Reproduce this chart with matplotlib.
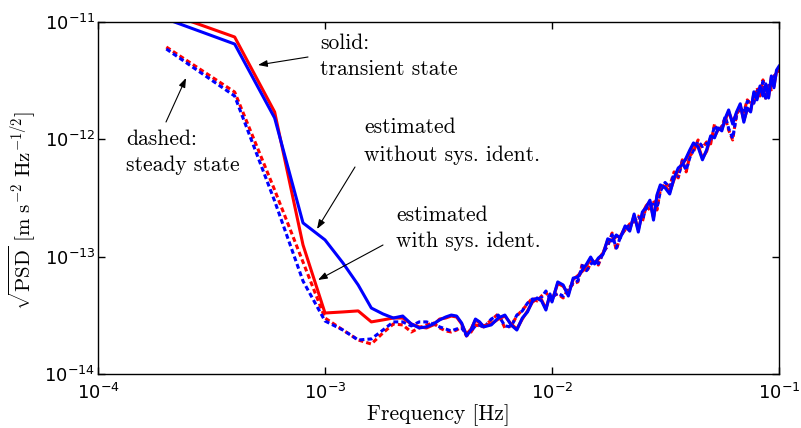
import numpy as np
import matplotlib
matplotlib.use("Agg")
import matplotlib.pyplot as plt
from matplotlib.ticker import NullLocator

# frequency bins [Hz]
freq = [2e-4, 4e-4, 6e-4, 8e-4, 1.0e-3, 1.2e-3, 1.4e-3, 1.6e-3, 1.8e-3, 2.0e-3,
        2.2e-3, 2.4e-3, 2.6e-3, 2.8e-3, 3.0e-3, 3.2e-3, 3.4e-3, 3.6e-3, 3.8e-3, 4.0e-3,
        4.2e-3, 4.4e-3, 4.6e-3, 4.8e-3, 5.0e-3, 5.4e-3, 5.8e-3, 6.2e-3, 6.6e-3, 7.0e-3,
        7.4e-3, 7.8e-3, 8.2e-3, 8.6e-3, 9.0e-3, 9.4e-3, 9.8e-3, 1.00e-2, 1.06e-2, 1.12e-2,
        1.18e-2, 1.24e-2, 1.30e-2, 1.36e-2, 1.42e-2, 1.48e-2, 1.54e-2, 1.60e-2, 1.68e-2, 1.76e-2,
        1.84e-2, 1.92e-2, 2.00e-2, 2.1e-2, 2.2e-2, 2.3e-2, 2.4e-2, 2.5e-2, 2.6e-2, 2.7e-2,
        2.8e-2, 2.9e-2, 3.0e-2, 3.15e-2, 3.3e-2, 3.45e-2, 3.6e-2, 3.75e-2, 3.9e-2, 4.05e-2,
        4.2e-2, 4.4e-2, 4.6e-2, 4.8e-2, 5.0e-2, 5.2e-2, 5.4e-2, 5.6e-2, 5.8e-2, 6.0e-2,
        6.25e-2, 6.5e-2, 6.75e-2, 7.0e-2, 7.25e-2, 7.5e-2, 7.75e-2, 8.0e-2, 8.25e-2, 8.5e-2,
        8.75e-2, 9.0e-2, 9.25e-2, 9.5e-2, 9.75e-2, 0.1]

# sqrt(PSD) in units of 1e-14 m s^-2 Hz^-1/2
# solid = transient state, dashed = steady state
# blue = estimated without sys. ident., red = with sys. ident.
blue_solid = [1060, 649, 152, 19.4, 13.9, 8.83, 5.74, 3.65, 3.25, 3.0,
              3.12, 2.67, 2.47, 2.52, 2.67, 2.89, 3.06, 3.18, 3.12, 2.72,
              2.11, 2.37, 2.94, 2.78, 2.52, 2.62, 3.0, 3.18, 2.62, 2.37,
              3.0, 3.38, 4.19, 4.45, 4.19, 3.51, 4.81, 4.11, 6.09, 5.74,
              4.62, 6.57, 6.70, 7.7, 8.66, 9.93, 8.66, 9.74, 10.5, 14.2,
              13.6, 15.3, 14.4, 18.3, 16.5, 23.1, 16.2, 24.0, 26.4, 30.3,
              20.5, 33.6, 40.9, 38.6, 34.2, 46.9, 57.1, 60.6, 69.6, 81.4,
              93.2, 86.2, 66.9, 81.4, 107, 103, 125, 118, 152, 178,
              135, 171, 201, 140, 185, 171, 254, 217, 285, 234,
              297, 225, 347, 275, 389, 420]

red_solid = [1200, 745, 171, 12.6, 3.31, 3.38, 3.45, 2.78, 2.89, 3.0,
             3.0, 2.67, 2.52, 2.47, 2.62, 2.94, 3.0, 3.12, 3.06, 2.67,
             2.18, 2.42, 2.89, 2.72, 2.57, 2.67, 2.94, 3.12, 2.67, 2.42,
             2.94, 3.45, 4.1, 4.36, 4.28, 3.6, 4.7, 4.2, 5.9, 5.6,
             4.8, 6.4, 6.9, 7.5, 8.4, 9.6, 8.9, 9.5, 10.8, 13.8,
             13.9, 14.8, 14.9, 17.8, 17.0, 22.4, 17.0, 23.2, 27.2, 29.4,
             21.6, 32.5, 39.6, 39.8, 35.5, 45.4, 55.3, 62.5, 67.5, 79.0,
             90.4, 88.8, 69.0, 79.0, 104, 106, 121, 122, 147, 172,
             140, 166, 195, 145, 180, 176, 246, 224, 276, 241,
             288, 232, 336, 283, 377, 410]

red_dashed = [612, 253, 37.0, 9.0, 3.0, 2.37, 1.95, 1.80, 2.24, 2.67,
              2.62, 2.28, 2.47, 2.62, 2.72, 2.47, 2.33, 2.28, 2.37, 2.52,
              2.11, 2.28, 2.62, 2.57, 2.52, 2.89, 3.25, 2.47, 2.57, 3.12,
              3.51, 3.95, 4.45, 4.19, 4.62, 5.0, 4.28, 4.62, 4.81, 4.45,
              5.30, 5.85, 6.09, 8.66, 7.4, 8.83, 9.0, 8.49, 11.0, 12.3,
              15.9, 11.4, 15.0, 16.9, 19.0, 19.8, 22.2, 19.8, 27.0, 25.0,
              30.3, 25.0, 37.0, 41.7, 40.0, 52.8, 46.9, 66.9, 52.8, 72.4,
              78.3, 98.8, 84.5, 95, 91.5, 135, 116, 130, 152, 120,
              98.8, 164, 185, 171, 217, 201, 209, 275, 234, 321,
              217, 297, 264, 347, 361, 389]

blue_dashed = [589, 234, 29.8, 6.2, 2.83, 2.37, 1.95, 1.99, 2.37, 2.78,
               2.78, 2.57, 2.78, 2.78, 2.67, 2.52, 2.42, 2.33, 2.42, 2.47,
               2.18, 2.33, 2.57, 2.62, 2.47, 2.94, 3.18, 2.57, 2.52, 3.18,
               3.45, 4.02, 4.36, 4.28, 4.5, 5.1, 4.4, 4.5, 4.9, 4.6,
               5.2, 6.0, 6.2, 8.4, 7.6, 8.6, 9.2, 8.7, 10.7, 12.6,
               15.4, 11.8, 14.6, 17.4, 18.5, 20.4, 21.6, 20.4, 26.2, 25.8,
               29.4, 25.8, 36.0, 42.9, 38.8, 51.2, 48.3, 64.9, 54.4, 70.2,
               80.6, 95.8, 87.0, 92.2, 94.2, 131, 119, 126, 157, 124,
               102, 159, 190, 166, 211, 207, 203, 267, 241, 311,
               224, 288, 272, 337, 372, 400]

xticks = [1e-4, 1e-3, 1e-2, 1e-1]
yticks = [1e-14, 1e-13, 1e-12, 1e-11]

unit = 1e-14
W, H = 801, 428

fig = plt.figure(figsize=(W / 100, H / 100), dpi=100)
ax = fig.add_axes([98 / W, 54 / H, 681 / W, 352 / H])

lw = 2.2
dash = (1.6, 1.0)
ax.loglog(freq, np.array(red_dashed) * unit, color=(1, 0, 0), lw=lw, dashes=dash)
ax.loglog(freq, np.array(blue_dashed) * unit, color=(0, 0, 1), lw=lw, dashes=dash)
ax.loglog(freq, np.array(red_solid) * unit, color=(1, 0, 0), lw=lw)
ax.loglog(freq, np.array(blue_solid) * unit, color=(0, 0, 1), lw=lw)

ax.set_xlim(xticks[0], xticks[-1])
ax.set_ylim(yticks[0], yticks[-1])
ax.set_xticks(xticks)
ax.set_yticks(yticks)
ax.xaxis.set_minor_locator(NullLocator())
ax.yaxis.set_minor_locator(NullLocator())
ax.tick_params(direction='in', length=5, width=1, top=True, right=True, labelsize=13)
ax.tick_params(axis='x', pad=6.5)
ax.tick_params(axis='y', pad=2)
for s in ax.spines.values():
    s.set_linewidth(1.0)

ax.set_xlabel('Frequency [Hz]', family='cmr10', size=15.5)
ax.xaxis.set_label_coords(0.5, -0.085)
ax.set_ylabel(r'$\sqrt{\mathrm{PSD}}\ [\mathrm{m\ s^{-2}\ Hz^{-1/2}}]$',
              math_fontfamily='cm', size=15)
ax.yaxis.set_label_coords(-0.088, 0.465)


def note(lines, x, y0, step=26):
    for i, s in enumerate(lines):
        fig.text(x / W, 1 - (y0 + i * step) / H, s, family='cmr10', size=15.5,
                 va='baseline', ha='left')


def arrow(tail, head):
    ax.annotate('', xy=(head[0], H - head[1]), xycoords='figure pixels',
                xytext=(tail[0], H - tail[1]), textcoords='figure pixels',
                arrowprops=dict(arrowstyle='-|>,head_length=0.55,head_width=0.2',
                                color='k', lw=0.8, shrinkA=0, shrinkB=0))


note(['solid:', 'transient state'], 320, 49)
note(['dashed:', 'steady state'], 126, 145)
note(['estimated', 'without sys. ident.'], 364, 133, step=28)
note(['estimated', 'with sys. ident.'], 396, 221)

arrow((308, 57), (258, 65))
arrow((166, 122), (186, 78))
arrow((355, 167), (317, 229))
arrow((383, 245), (318, 280))

fig.savefig('out.png', dpi=100)
